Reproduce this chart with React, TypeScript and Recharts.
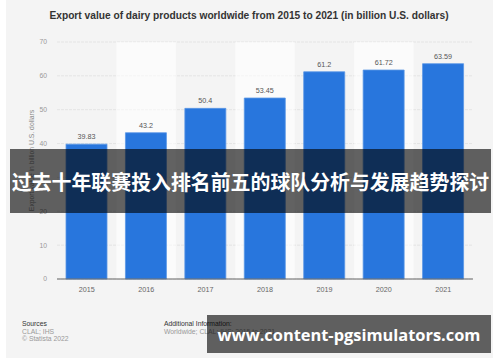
import { BarChart, Bar, XAxis, YAxis, LabelList, ReferenceArea, CartesianGrid } from "recharts";

const years = ["2015", "2016", "2017", "2018", "2019", "2020", "2021"];
const exportValues = [39.83, 43.2, 50.4, 53.45, 61.2, 61.72, 63.59];
const yTicks = [0, 10, 20, 30, 40, 50, 60, 70];
const shadedYears = ["2016", "2018", "2020"];

const data = years.map((year, i) => ({ year, value: exportValues[i] }));

const font = "Arial, 'Liberation Sans', sans-serif";

export default function App() {
  return (
    <div style={{ position: "absolute", left: 0, top: 0, width: 500, height: 362, background: "#fff", fontFamily: font }}>
      <div style={{ position: "absolute", left: 6, top: 0, width: 487, height: 358, background: "#f4f4f4" }} />
      <div
        style={{
          position: "absolute",
          left: 0,
          top: 10,
          width: 498,
          textAlign: "center",
          fontSize: 10.2,
          fontWeight: "bold",
          color: "#333",
          lineHeight: "12px",
        }}
      >
        Export value of dairy products worldwide from 2015 to 2021 (in billion U.S. dollars)
      </div>
      <div style={{ position: "absolute", left: 0, top: 0 }}>
        <BarChart width={500} height={300} data={data} margin={{ top: 42, right: 27, bottom: 0, left: 0 }}>
          <CartesianGrid vertical={false} stroke="#e4e4e4" strokeDasharray="3 1" />
          {shadedYears.map((y) => (
            <ReferenceArea key={y} x1={y} x2={y} y1={0} y2={70} fill="#ffffff" fillOpacity={0.6} stroke="none" />
          ))}
          <XAxis
            dataKey="year"
            tickLine={false}
            axisLine={{ stroke: "#666", strokeWidth: 1 }}
            tick={{ fontSize: 7.2, fill: "#666", fontFamily: font }}
            height={21}
          />
          <YAxis
            width={57}
            domain={[0, 70]}
            ticks={yTicks}
            axisLine={false}
            tickLine={false}
            tickMargin={4}
            tick={{ fontSize: 6.8, fill: "#999", fontFamily: font }}
            label={{
              value: "Export value in billion U.S. dollars",
              angle: -90,
              position: "center",
              dx: 3,
              style: { fontSize: 6.8, fill: "#888", fontFamily: font },
            }}
          />
          <Bar dataKey="value" fill="#2876dd" stroke="#5a97e6" strokeWidth={0.8} barSize={41} isAnimationActive={false}>
            <LabelList dataKey="value" position="top" offset={5} style={{ fontSize: 7.2, fill: "#555", fontFamily: font }} />
          </Bar>
        </BarChart>
      </div>
      <div style={{ position: "absolute", left: 22, top: 320, fontSize: 6.8, lineHeight: "7.6px" }}>
        <div style={{ color: "#333" }}>Sources</div>
        <div style={{ color: "#999" }}>CLAL; IHS</div>
        <div style={{ color: "#999" }}>© Statista 2022</div>
      </div>
      <div style={{ position: "absolute", left: 164, top: 320, fontSize: 6.8, lineHeight: "7.6px" }}>
        <div style={{ color: "#333" }}>Additional Information:</div>
        <div style={{ color: "#999" }}>Worldwide; CLAL; IHS; 2015 to 2021</div>
      </div>
      <div
        style={{
          position: "absolute",
          left: 10,
          top: 149,
          width: 481,
          height: 64,
          background: "rgba(0,0,0,0.61)",
          display: "flex",
          alignItems: "center",
          justifyContent: "center",
          color: "#fff",
          fontFamily: "'Noto Sans CJK SC', sans-serif",
          fontWeight: "bold",
          fontSize: 19.9,
          whiteSpace: "nowrap",
        }}
      >
        过去十年联赛投入排名前五的球队分析与发展趋势探讨
      </div>
      <div
        style={{
          position: "absolute",
          left: 207,
          top: 315,
          width: 284,
          height: 38,
          background: "rgba(0,0,0,0.61)",
          display: "flex",
          alignItems: "center",
          justifyContent: "center",
          color: "#fff",
          fontFamily: "'Open Sans', 'Noto Sans', sans-serif",
          fontWeight: "bold",
          fontSize: 16.4,
          whiteSpace: "nowrap",
        }}
      >
        www.content-pgsimulators.com
      </div>
    </div>
  );
}
